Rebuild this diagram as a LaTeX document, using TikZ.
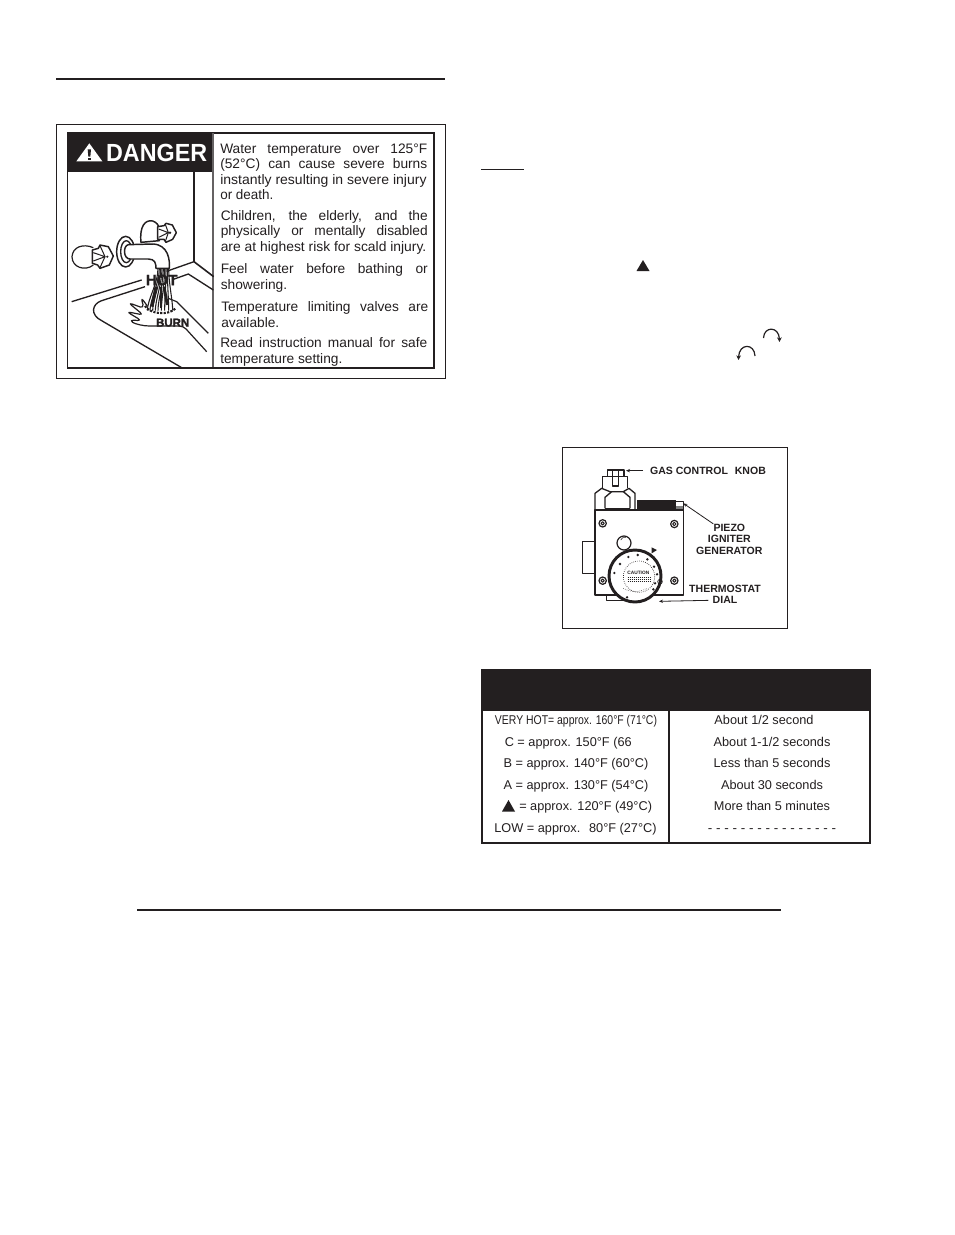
\documentclass[tikz,border=0pt]{standalone}
\usepackage{fontspec}
\usepackage{graphicx}
\setmainfont{Liberation Sans}
\usetikzlibrary{arrows.meta}
\definecolor{ink}{HTML}{231F20}
\newcommand{\jl}[1]{\makebox[155.25pt][s]{#1}}
\tikzset{
  rulebar/.style={draw=ink,line width=1.5pt},
  frame/.style={draw=ink,line width=0.6pt},
  dangertxt/.style={anchor=base west,inner sep=0pt,text=ink,font=\fontsize{10.3pt}{12pt}\selectfont},
  rowtxt/.style={anchor=base,inner sep=0pt,text=ink,font=\fontsize{9.55pt}{11pt}\selectfont},
  gaslabel/.style={anchor=center,inner sep=0pt,align=center,text=ink,font=\bfseries\fontsize{7.9pt}{8.6pt}\selectfont},
  lbl/.style={line width=0.6pt,draw=ink},
  thin/.style={draw=ink,line width=0.75pt,line join=round},
  wet/.style={draw=ink,line width=0.8pt},
  screw/.style={draw=ink,line width=0.9pt,fill=white}
}
\begin{document}
\begin{tikzpicture}[x=0.75pt,y=-0.75pt]
\useasboundingbox[fill=white] (0,0) rectangle (954,1235);
% rules
\draw[rulebar] (56,79) -- (445,79);
\draw[rulebar] (137,910) -- (781,910);
\draw[draw=ink,line width=0.9pt] (481,169.5) -- (524,169.5);
% danger panel
\draw[frame] (56,124) rectangle (445,378);
\draw[draw=ink,line width=0.8pt] (67.5,133) rectangle (434,368);
\fill[ink] (67.5,133) rectangle (214,172);
\draw[draw=ink!70,line width=0.9pt] (213,133) -- (213,367);
\begin{scope}[shift={(50,120)},x=0.25pt,y=-0.25pt]
  \fill[white] (79,124) -- (118,70) -- (157,124) -- cycle;
  \fill[ink] (113,88) -- (123,88) -- (121,110) -- (115,110) -- cycle;
  \fill[ink] (113,113) rectangle (123,120);
  \node[inner sep=0pt,text=white,font=\bfseries\fontsize{18.6pt}{20pt}\selectfont] (danger) at (320,98) {\scalebox{.94}[1]{DANGER}};
\end{scope}
\begin{scope}[shift={(60,180)},x=0.25pt,y=-0.25pt]
  % wall and counter
  \draw[thin,line width=1.2pt] (402,-24) -- (402,245) -- (461,290);
  \draw[thin,line width=1pt] (35,365) -- (245,300);
  \draw[thin,line width=1pt] (325,272) -- (402,245);
  \draw[thin,line width=1pt] (340,298) -- (385,282) -- (460,330);
  \draw[thin,line width=1pt] (255,320) -- (125,362) .. controls (95,372) and (90,405) .. (125,422) -- (365,563);
  % hand
  \draw[thin,line width=.9pt] (325,355) -- (350,365) -- (445,460);
  \draw[thin,line width=.9pt,rounded corners=3pt] (262,378) -- (243,352) -- (252,385) -- (205,368) -- (250,405) -- (200,395) -- (245,422) -- (208,420) .. controls (225,432) and (250,438) .. (280,438) -- (370,438) -- (440,515);
  % far valve
  \draw[thin,line width=.9pt] (100,203) .. controls (70,190) and (38,200) .. (36,230) .. controls (36,262) and (75,275) .. (100,255);
  \draw[thin,line width=1.1pt,fill=white] (97,210) -- (115,205) -- (120,195) -- (145,200) -- (160,228) -- (148,255) -- (120,265) -- (113,255) -- (97,250) -- cycle;
  \fill[ink] (142,230) circle (3.5);
  \draw[thin] (100,218) -- (135,230) -- (100,243);
  \draw[thin] (120,197) -- (135,230) -- (120,263);
  % flange
  \draw[thin,line width=1.1pt] (197,215) ellipse (27 and 46);
  \draw[thin,line width=1pt] (199,215) ellipse (17 and 33);
  % spout
  \draw[thin,line width=1.1pt,fill=white] (205,194) -- (280,192) .. controls (325,195) and (330,240) .. (328,265) -- (288,265) .. controls (288,250) and (285,237) .. (265,237) -- (210,237) .. controls (190,237) and (188,198) .. (205,194) -- cycle;
  % upper handle
  \draw[thin,line width=1.1pt,fill=white] (243,187) .. controls (238,140) and (255,118) .. (278,123) .. controls (290,127) and (297,135) .. (298,150) -- (298,182) -- cycle;
  \draw[thin,line width=1.1pt,fill=white] (293,140) -- (312,137) -- (318,130) -- (337,135) -- (349,158) -- (338,178) -- (318,187) -- (312,178) -- (293,178) -- cycle;
  \fill[ink] (330,158) circle (4);
  \draw[thin] (296,147) -- (325,158) -- (296,172);
  \draw[thin] (316,133) -- (325,158) -- (316,184);
  % water
  \foreach \xa/\xb in {294/262,298/270,302/278,306/286,310/294,314/304,318/314,322/326,326/338}{
    \draw[wet] (\xa,265) .. controls (\xa,310) and (\xb,360) .. (\xb,392);
  }
  \draw[wet,line width=2.2pt] (312,320) -- (322,375);
  \draw[wet,line width=2.2pt] (288,320) -- (276,380);
  \draw[wet,line width=2.2pt] (303,320) -- (303,385);
  \draw[ink,line width=1.6pt,densely dotted] (255,378) .. controls (270,402) and (325,408) .. (347,385);
  % words
  \node[inner sep=0pt,text=ink,font=\bfseries\fontsize{11.2pt}{12pt}\selectfont\addfontfeature{FakeBold=1.5}] (hot) at (305,300) {HOT};
  \node[inner sep=0pt,text=ink,font=\bfseries\fontsize{8.6pt}{10pt}\selectfont\addfontfeature{FakeBold=1.5}] (burn) at (338,428) {BURN};
\end{scope}
% danger text
\node[dangertxt] (d1) at (220,153) {\jl{Water temperature over 125°F}};
\node[dangertxt] (d2) at (220,168.5) {\jl{(52°C) can cause severe burns}};
\node[dangertxt] (d3) at (220,184) {\scalebox{1.02}[1]{instantly resulting in severe injury}};
\node[dangertxt] (d4) at (220,199) {\scalebox{.98}[1]{or death.}};
\node[dangertxt] (d5) at (220.5,220) {\jl{Children, the elderly, and the}};
\node[dangertxt] (d6) at (220.5,235) {\jl{physically or mentally disabled}};
\node[dangertxt] (d7) at (220.5,251) {\scalebox{1.01}[1]{are at highest risk for scald injury.}};
\node[dangertxt] (d8) at (220.5,273) {\jl{Feel water before bathing or}};
\node[dangertxt] (d9) at (220.5,289) {showering.};
\node[dangertxt] (d10) at (221,311) {\jl{Temperature limiting valves are}};
\node[dangertxt] (d11) at (221,327) {available.};
\node[dangertxt] (d12) at (220,347) {\jl{Read instruction manual for safe}};
\node[dangertxt] (d13) at (220,363) {temperature setting.};
% triangle and arcs in the right column
\fill[ink] (636.5,271) -- (643,260) -- (649.5,271) -- cycle;
\draw[draw=ink,line width=0.9pt,-{Stealth[length=3.5pt,width=3.5pt]}] (763.5,338) .. controls (764,326) and (779,326) .. (779.5,342);
\draw[draw=ink,line width=0.9pt,-{Stealth[length=3.5pt,width=3.5pt]}] (755,356) .. controls (754.5,343) and (739,343) .. (738.5,360);
% gas control figure
\draw[draw=ink,line width=0.7pt] (562,447) rectangle (787,628);
\begin{scope}[shift={(555,440)},x=0.25pt,y=-0.25pt]
  \node[gaslabel] (gck) at (459,92) {GAS CONTROL\hspace{3pt} KNOB};
  \node[gaslabel] (piezo) at (523,298) {PIEZO\\IGNITER\\GENERATOR};
  \node[gaslabel] (therm) at (510,448) {THERMOSTAT};
  \node[gaslabel] (dial) at (510,481) {DIAL};
  \coordinate (knobtip) at (213,92);
  \coordinate (piezotip) at (385,190);
  \coordinate (dialtip) at (312,484);
  % bottom and left tabs
  \draw[thin,fill=white] (82,305) rectangle (120,400);
  \draw[thin,fill=white] (155,450) rectangle (210,480);
  % knob
  \draw[thin,line width=1pt] (157,110) -- (157,90) -- (207,90) -- (207,110);
  \draw[thin,line width=1pt] (173,90) -- (173,138) -- (190,138) -- (190,90);
  \draw[thin,line width=1pt] (143,145) -- (143,110) -- (218,110) -- (218,145);
  \draw[thin,line width=1pt] (120,210) -- (120,160) -- (140,145) -- (165,155) -- (205,155) -- (222,145) -- (240,160) -- (240,210);
  \draw[thin,line width=1pt] (150,205) -- (150,172) -- (170,155);
  \draw[thin,line width=1pt] (225,205) -- (225,172) -- (205,155);
  \draw[thin,line width=1pt] (150,205) -- (225,205);
  % piezo
  \fill[ink] (245,180) rectangle (362,210);
  \fill[black!50] (360,198) rectangle (385,210);
  \draw[thin] (360,185) rectangle (385,210);
  % body
  \draw[thin,line width=1.2pt,fill=white] (120,210) rectangle (385,465);
  \foreach \sx/\sy in {143/250,358/252,143/422,358/422}{
    \draw[screw] (\sx,\sy) circle (11);
    \draw[thin] (\sx,\sy) circle (5);
  }
  \draw[screw] (207,309) circle (21);
  \draw[draw=ink,line width=0.4pt] (197,300) arc (200:290:12);
  \draw[draw=ink,line width=2.2pt,fill=white] (240,408) circle (78);
  \fill[ink] (290,322) -- (306,330) -- (290,340) -- cycle;
  \draw[draw=ink,line width=0.5pt,densely dotted] (252,410) circle (47);
  \node[inner sep=0pt,text=ink,font=\bfseries\fontsize{3.6pt}{3.8pt}\selectfont,align=center] (caution) at (250,400) {CAUTION};
  \foreach \ty in {413,419,425}{
    \draw[draw=ink,line width=0.5pt,densely dotted] (218,\ty) -- (285,\ty);
  }
  \foreach \dx/\dy in {178/399,195/372,220/351,248/345,277/358,297/380,306/403,300/430,295/448,216/472}{
    \fill[ink] (\dx,\dy) circle (4);
  }
  \draw[draw=ink,line width=0.5pt] (315,425) circle (7);
  \draw[draw=ink,line width=0.4pt,densely dotted] (205,445) arc (120:60:70);
  % leaders
  \draw[lbl,-{Stealth[length=3pt,width=2.5pt]}] ([xshift=-5pt]gck.west) -- (knobtip);
  \draw[lbl,-{Stealth[length=3pt,width=2.5pt]}] ([xshift=-12pt]piezo.north) -- (piezotip);
  \draw[lbl,-{Stealth[length=3pt,width=2.5pt]}] ([xshift=-3pt]dial.west) -- (dialtip);
\end{scope}
% table
\fill[ink] (482,670) rectangle (870,711);
\draw[draw=ink,line width=1.4pt] (482,670) rectangle (870,843);
\draw[draw=ink,line width=0.9pt] (669,711) -- (669,843);
\node[rowtxt] (l1) at (576,724.5) {\scalebox{.82}[1]{VERY HOT= approx. 160°F (71°C)}};
\node[rowtxt,anchor=base west] (l2) at (504.5,746) {C = approx. 150°F (66};
\node[rowtxt] (l3) at (576,767.5) {B = approx. 140°F (60°C)};
\node[rowtxt] (l4) at (576,789.5) {A = approx. 130°F (54°C)};
\node[rowtxt,anchor=base west] (l5) at (519,810.5) {= approx. 120°F (49°C)};
\fill[ink] (502,811.5) -- (508.5,800) -- (515,811.5) -- cycle;
\node[rowtxt] (l6) at (575.5,832.5) {LOW = approx.\hspace{3pt} 80°F (27°C)};
\node[rowtxt] (r1) at (764,724.5) {About 1/2 second};
\node[rowtxt] (r2) at (772,746) {About 1-1/2 seconds};
\node[rowtxt] (r3) at (772,767.5) {Less than 5 seconds};
\node[rowtxt] (r4) at (772,789.5) {About 30 seconds};
\node[rowtxt] (r5) at (772,810.5) {More than 5 minutes};
\node[rowtxt] (r6) at (772,832.5) {\scalebox{1.06}[1]{- - - - - - - - - - - - - - - -}};
\end{tikzpicture}
\end{document}
